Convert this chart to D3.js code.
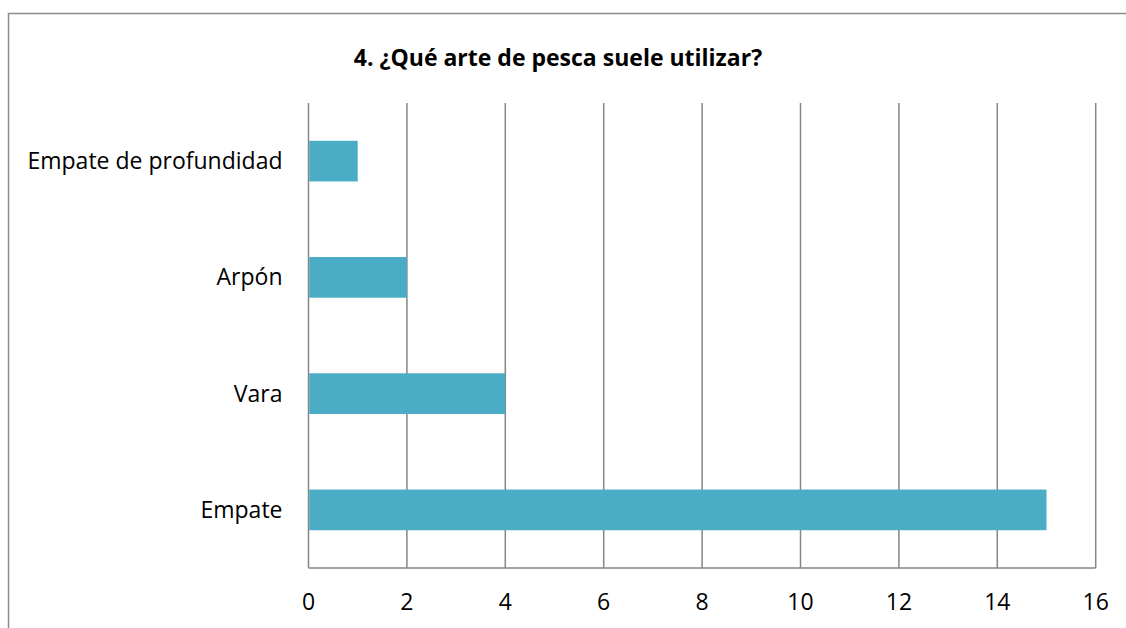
<!DOCTYPE html>
<html>
<head>
<meta charset="utf-8">
<script src="https://cdn.jsdelivr.net/npm/d3@7"></script>
<style>
  html, body { margin: 0; padding: 0; background: #fff; }
  svg { display: block; }
  text { font-family: "Open Sans", "Noto Sans", sans-serif; fill: #000; }
</style>
</head>
<body>
<div id="chart"></div>
<script>
const title = '4. ¿Qué arte de pesca suele utilizar?';
const categories = ['Empate de profundidad', 'Arpón', 'Vara', 'Empate'];
const values = [1, 2, 4, 15];
const ticks = [0, 2, 4, 6, 8, 10, 12, 14, 16];

const W = 1126, H = 628;
const margin = { top: 103, right: 30, bottom: 60, left: 308.5 };
const plotW = 1095.7 - margin.left;
const plotH = 568 - margin.top;

const svg = d3.select('#chart').append('svg')
  .attr('width', W)
  .attr('height', H);

// outer chart border (runs off the right and bottom of the picture)
svg.append('rect')
  .attr('x', 8.5).attr('y', 13.5)
  .attr('width', W + 20).attr('height', H + 20)
  .attr('fill', 'none')
  .attr('stroke', '#8c8c8c')
  .attr('stroke-width', 1.5);

svg.append('text')
  .attr('x', 558)
  .attr('y', 66)
  .attr('text-anchor', 'middle')
  .style('font-size', '23px')
  .style('font-weight', 'bold')
  .text(title);

const g = svg.append('g').attr('transform', `translate(${margin.left},${margin.top})`);

const x = d3.scaleLinear().domain([0, 16]).range([0, plotW]);
const y = d3.scaleBand().domain(categories).range([0, plotH]).paddingInner(0.65).paddingOuter(0.325);

// vertical gridlines
g.selectAll('line.grid')
  .data(ticks)
  .enter().append('line')
  .attr('class', 'grid')
  .attr('x1', d => x(d)).attr('x2', d => x(d))
  .attr('y1', 0).attr('y2', plotH)
  .attr('stroke', '#868686')
  .attr('stroke-width', 1.5);

// bottom axis line
g.append('line')
  .attr('x1', 0).attr('x2', plotW)
  .attr('y1', plotH).attr('y2', plotH)
  .attr('stroke', '#868686')
  .attr('stroke-width', 1.5);

g.selectAll('rect.bar')
  .data(values)
  .enter().append('rect')
  .attr('class', 'bar')
  .attr('x', x(0) + 0.75)
  .attr('y', (d, i) => y(categories[i]))
  .attr('width', d => x(d) - x(0) - 0.75)
  .attr('height', y.bandwidth())
  .attr('fill', '#4bacc6');

// category labels
g.selectAll('text.cat')
  .data(categories)
  .enter().append('text')
  .attr('class', 'cat')
  .attr('x', -26)
  .attr('y', d => y(d) + y.bandwidth() / 2)
  .attr('dy', '0.35em')
  .attr('text-anchor', 'end')
  .style('font-size', '23px')
  .text(d => d);

// tick labels
g.selectAll('text.tick')
  .data(ticks)
  .enter().append('text')
  .attr('class', 'tick')
  .attr('x', d => x(d))
  .attr('y', plotH + 34)
  .attr('dy', '0.35em')
  .attr('text-anchor', 'middle')
  .style('font-size', '23px')
  .text(d => d);
</script>
</body>
</html>
